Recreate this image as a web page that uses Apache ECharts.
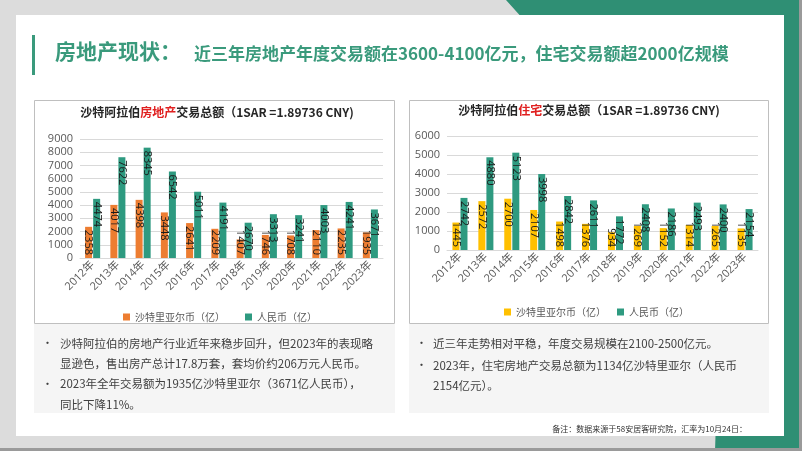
<!DOCTYPE html>
<html><head><meta charset="utf-8">
<script src="https://cdn.jsdelivr.net/npm/echarts@6/dist/echarts.min.js"></script>
<style>html,body{margin:0;padding:0;background:#fff}#c{width:802px;height:451px}</style>
</head><body><div id="c"></div>
<script>
// ---- data ----
const years = ['2012年','2013年','2014年','2015年','2016年','2017年','2018年','2019年','2020年','2021年','2022年','2023年'];
const totalSAR = [2358,4017,4398,3448,2641,2209,1407,1746,1708,2110,2235,1935];
const totalCNY = [4474,7622,8345,6542,5011,4191,2670,3313,3241,4003,4241,3671];
const resSAR = [1445,2572,2700,2107,1498,1376,934,1269,1152,1314,1265,1135];
const resCNY = [2742,4880,5123,3998,2842,2611,1772,2408,2186,2493,2400,2154];
const leftMax = 9000, rightMax = 6000, tickStep = 1000;
const nameSAR = '沙特里亚尔币（亿）';
const nameCNY = '人民币（亿）';
const leftTitle = ['沙特阿拉伯','房地产','交易总额（1SAR =1.89736 CNY)'];
const rightTitle = ['沙特阿拉伯','住宅','交易总额（1SAR =1.89736 CNY)'];
const headMain = '房地产现状：';
const headSub = '近三年房地产年度交易额在3600-4100亿元，住宅交易额超2000亿规模';
const leftNotes = ['沙特阿拉伯的房地产行业近年来稳步回升，但2023年的表现略\n显逊色，售出房产总计17.8万套，套均价约206万元人民币。',
                   '2023年全年交易额为1935亿沙特里亚尔（3671亿人民币），\n同比下降11%。'];
const rightNotes = ['近三年走势相对平稳，年度交易规模在2100-2500亿元。',
                    '2023年，住宅房地产交易总额为1134亿沙特里亚尔（人民币\n2154亿元）。'];
const footNote = '备注：数据来源于58安居客研究院，汇率为10月24日：';

// ---- style ----
const GREEN = '#2E9A80', ORANGE = '#ED7D31', YELLOW = '#FFC000', TEAL = '#3A9A7C';
const FF = '"Open Sans","Noto Sans CJK SC",sans-serif';
const CJK = '"Noto Sans CJK SC",sans-serif';

const L = {left:80, right:419, top:139, bottom:193};
const R = {left:447, right:44, top:136, bottom:201};
const LH = 451 - L.top - L.bottom, RH = 451 - R.top - R.bottom;
const NOTE_LH = 20.5;

function items(vals, max, plotH){
  return vals.map(v => {
    const px = v / max * plotH;
    const lab = px >= 31 ? {position:'insideTop', align:'left', distance:3}
                         : {position:'insideBottom', align:'right', distance:3};
    return {value:v, label:lab};
  });
}
const labelBase = {show:true, rotate:-90, verticalAlign:'middle', fontSize:11, color:'#1a1a1a', fontFamily:FF};

function bar(name, data, color, xi){
  return {type:'bar', name, xAxisIndex:xi, yAxisIndex:xi, data, barWidth:7, barGap:'15%',
          itemStyle:{color}, label:labelBase, emphasis:{disabled:true}, animation:false};
}
function titleRich(parts, x, y){
  return {type:'text', x, y, style:{
    text:'{a|'+parts[0]+'}{r|'+parts[1]+'}{a|'+parts[2]+'}',
    align:'center', verticalAlign:'middle',
    rich:{a:{fontSize:12, fontWeight:'bold', fill:'#262626', fontFamily:CJK},
          r:{fontSize:12, fontWeight:'bold', fill:'#E02020', fontFamily:CJK}}
  }};
}
function notes(arr, bx, tx, ys){
  const out = [];
  arr.forEach((t,i)=>{
    out.push({type:'text', x:bx, y:ys[i] + NOTE_LH/2, style:{text:'•', font:'11px '+CJK, fill:'#404040', verticalAlign:'middle'}});
    out.push({type:'text', x:tx, y:ys[i], style:{text:t, font:'11.5px '+CJK, fill:'#404040', verticalAlign:'top', lineHeight:NOTE_LH}});
  });
  return out;
}

const graphics = [
  {type:'rect', shape:{x:0,y:0,width:802,height:451}, style:{fill:'#dcdcdc'}},
  {type:'polygon', shape:{points:[[506,0],[802,0],[802,451],[715,451],[720,300],[560,60]]}, style:{fill:'#2F8F74'}},
  {type:'rect', shape:{x:16,y:15,width:768,height:421}, style:{fill:'#ffffff'}},
  {type:'rect', shape:{x:799,y:0,width:3,height:451}, style:{fill:'#9a9a9a'}},
  {type:'rect', shape:{x:0,y:448,width:802,height:3}, style:{fill:'#9a9a9a'}},
  {type:'rect', shape:{x:32,y:35,width:3,height:40}, style:{fill:TEAL}},
  {type:'text', x:55, y:51, style:{text:headMain, font:'bold 21px '+CJK, fill:TEAL, verticalAlign:'middle'}},
  {type:'text', x:194, y:54, style:{text:headSub, font:'bold 17px '+CJK, fill:TEAL, verticalAlign:'middle'}},
  {type:'rect', shape:{x:34.5,y:100.5,width:360,height:223}, style:{fill:'#fff', stroke:'#bfbfbf', lineWidth:1}},
  {type:'rect', shape:{x:409.5,y:100.5,width:359,height:223}, style:{fill:'#fff', stroke:'#bfbfbf', lineWidth:1}},
  {type:'rect', shape:{x:34,y:324,width:361,height:89}, style:{fill:'#f5f5f5'}},
  {type:'rect', shape:{x:409,y:324,width:360,height:89}, style:{fill:'#f5f5f5'}},
  titleRich(leftTitle, 217, 112),
  titleRich(rightTitle, 589, 110),
  ...notes(leftNotes, 42, 60, [333, 373.5]),
  ...notes(rightNotes, 416, 433, [333, 355]),
  {type:'text', x:747, y:429, style:{text:footNote, font:'8px '+CJK, fill:'#333', align:'right', verticalAlign:'middle'}}
];

function xAx(gi){
  return {type:'category', gridIndex:gi, data:years,
    axisLine:{lineStyle:{color:'#d9d9d9'}}, axisTick:{show:false},
    axisLabel:{interval:0, rotate:45, margin:5, fontSize:11, color:'#595959', fontFamily:FF}};
}
function yAx(gi, max){
  return {type:'value', gridIndex:gi, min:0, max, interval:tickStep,
    axisLabel:{fontSize:11, color:'#595959', margin:7, fontFamily:FF, formatter:v => String(v)},
    splitLine:{lineStyle:{color:'#d9d9d9'}}};
}

const chart = echarts.init(document.getElementById('c'), null, {renderer:'canvas'});
chart.setOption({
  animation:false,
  graphic: graphics,
  grid:[L, R],
  xAxis:[xAx(0), xAx(1)],
  yAxis:[yAx(0, leftMax), yAx(1, rightMax)],
  legend:[
    {left:118, top:307, itemWidth:7, itemHeight:7, itemGap:20, icon:'rect', data:[nameSAR, nameCNY],
     textStyle:{fontSize:10, color:'#595959', fontFamily:CJK}},
    {left:499, top:302, itemWidth:7, itemHeight:7, itemGap:11, icon:'rect', data:[nameSAR+'\u200b', nameCNY+'\u200b'],
     textStyle:{fontSize:10, color:'#595959', fontFamily:CJK}}
  ],
  series:[
    bar(nameSAR, items(totalSAR, leftMax, LH), ORANGE, 0),
    bar(nameCNY, items(totalCNY, leftMax, LH), GREEN, 0),
    bar(nameSAR+'\u200b', items(resSAR, rightMax, RH), YELLOW, 1),
    bar(nameCNY+'\u200b', items(resCNY, rightMax, RH), GREEN, 1)
  ]
});
</script></body></html>
